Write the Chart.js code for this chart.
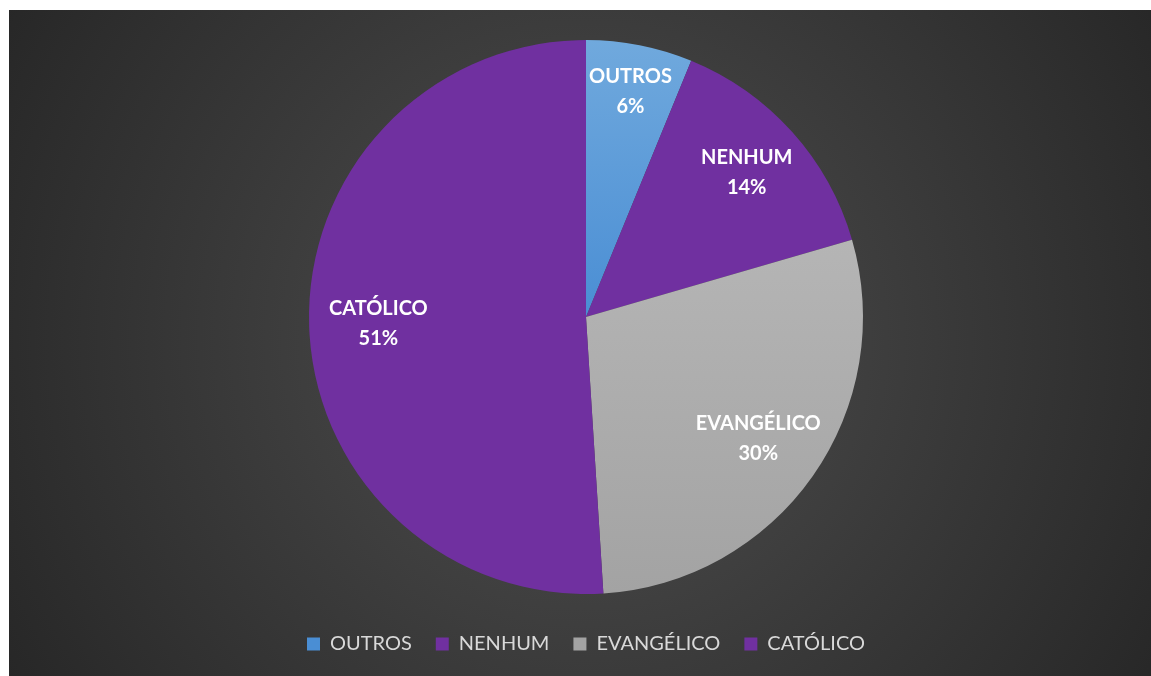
<!DOCTYPE html>
<html lang="pt">
<head>
<meta charset="UTF-8">
<title>Religião</title>
<script src="https://cdn.jsdelivr.net/npm/chart.js@4.4.1/dist/chart.umd.min.js"></script>
<style>
    html, body { margin: 0; padding: 0; background: #ffffff; }
    .wrap { position: relative; width: 1151px; height: 676px; }
</style>
</head>
<body>
<div class="wrap"><canvas id="pieChart"></canvas></div>
<script>
    // values (slice angles) and the printed percentages
    const categories = ['OUTROS', 'NENHUM', 'EVANGÉLICO', 'CATÓLICO'];
    const shares = [6.2, 14.3, 28.5, 51.0];
    const shareLabels = ['6%', '14%', '30%', '51%'];

    // panel background: white frame + dark radial gradient
    const panelBg = {
        id: 'panelBg',
        beforeDraw(chart) {
            const {ctx, width, height} = chart;
            ctx.save();
            ctx.fillStyle = '#ffffff';
            ctx.fillRect(0, 0, width, height);
            const g = ctx.createRadialGradient(585, 340, 0, 585, 340, 720);
            g.addColorStop(0, '#4f4f4f');
            g.addColorStop(1, '#242424');
            ctx.fillStyle = g;
            ctx.fillRect(9, 10, width - 9, height - 10);
            ctx.restore();
        }
    };

    // two-line labels inside each slice
    const sliceLabels = {
        id: 'sliceLabels',
        afterDatasetsDraw(chart, args, opts) {
            const {ctx} = chart;
            const meta = chart.getDatasetMeta(0);
            ctx.save();
            ctx.fillStyle = '#ffffff';
            ctx.font = 'bold 20px Lato';
            ctx.textAlign = 'center';
            ctx.textBaseline = 'middle';
            meta.data.forEach((arc, i) => {
                const p = arc.getProps(['x', 'y', 'startAngle', 'endAngle', 'outerRadius']);
                const mid = (p.startAngle + p.endAngle) / 2;
                const r = p.outerRadius * opts.radial[i];
                const x = p.x + Math.cos(mid) * r;
                const y = p.y + Math.sin(mid) * r;
                ctx.fillText(categories[i], x, y - 15);
                ctx.fillText(shareLabels[i], x, y + 15);
            });
            ctx.restore();
        }
    };

    function sliceColor(context) {
        const chart = context.chart;
        const area = chart.chartArea;
        if (!area) return '#7030a0';
        const cy = (area.top + area.bottom) / 2;
        const i = context.dataIndex;
        if (i === 0) {
            const g = chart.ctx.createLinearGradient(0, cy - 277, 0, cy);
            g.addColorStop(0, '#70a9dd');
            g.addColorStop(1, '#4a8ed4');
            return g;
        }
        if (i === 2) {
            const g = chart.ctx.createLinearGradient(0, cy - 80, 0, cy + 277);
            g.addColorStop(0, '#b5b5b5');
            g.addColorStop(1, '#a3a3a3');
            return g;
        }
        return '#7030a0';
    }

    new Chart(document.getElementById('pieChart'), {
        type: 'pie',
        data: {
            labels: categories,
            datasets: [{
                data: shares,
                backgroundColor: sliceColor,
                borderWidth: 0,
                radius: 277
            }]
        },
        options: {
            responsive: true,
            maintainAspectRatio: false,
            animation: false,
            layout: {
                padding: {top: 24, left: 21, right: 0, bottom: 12}
            },
            plugins: {
                tooltip: {enabled: false},
                legend: {
                    position: 'bottom',
                    labels: {
                        color: '#d9d9d9',
                        font: {family: 'Lato', size: 20},
                        boxWidth: 13,
                        boxHeight: 13,
                        padding: 24
                    }
                },
                sliceLabels: {radial: [0.83, 0.78, 0.76, 0.75]}
            }
        },
        plugins: [panelBg, sliceLabels]
    });
</script>
</body>
</html>
